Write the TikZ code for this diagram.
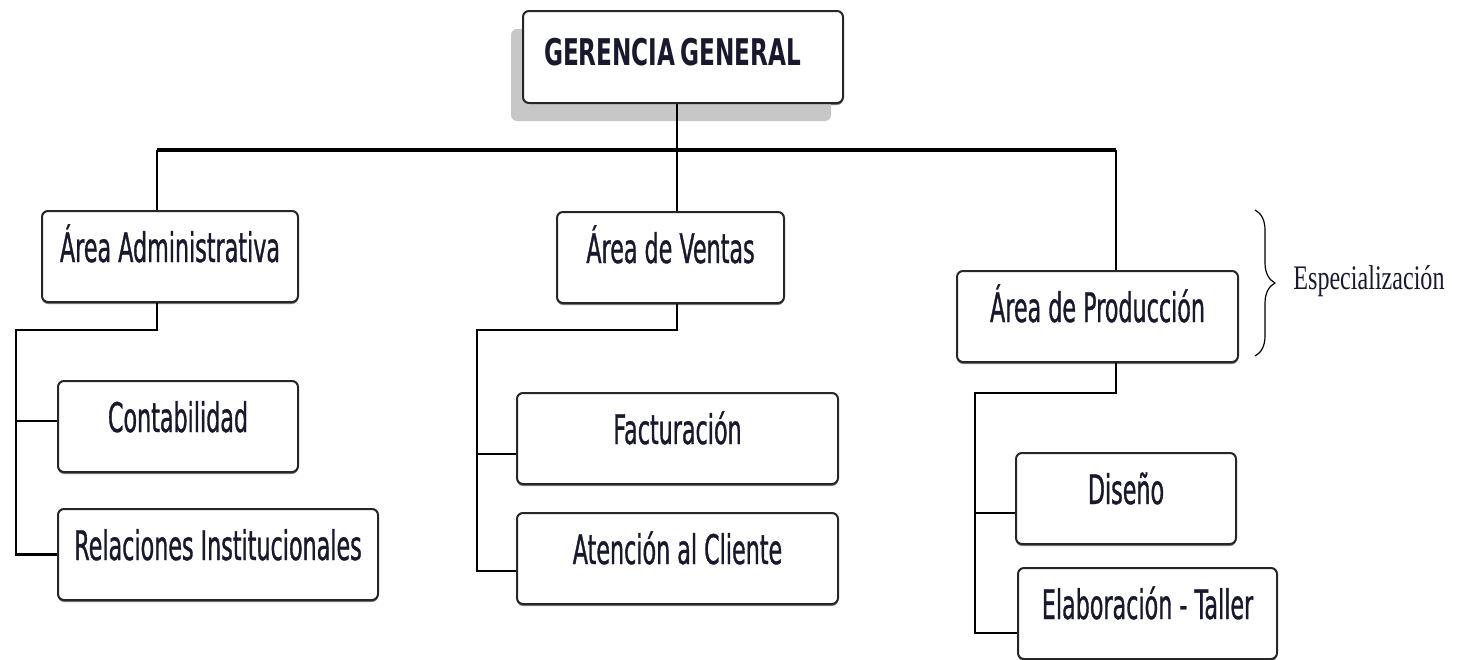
\documentclass[tikz,border=0pt]{standalone}
\usepackage{fontspec}
\newfontfamily\boxfont[FakeStretch=0.545, FakeBold=0.8]{DejaVu Sans}
\newfontfamily\gerfont[FakeStretch=0.63]{DejaVu Sans}
\newfontfamily\espfont[FakeStretch=0.7]{Liberation Serif}
\newcommand\gerspace{\spaceskip 2.5pt\relax}
\usetikzlibrary{shadows, decorations.pathreplacing}
\definecolor{txt}{RGB}{25,25,45}

\begin{document}
\begin{tikzpicture}[x=0.5pt, y=-0.5pt,
  box/.style={draw=black!85, line width=1pt, rounded corners=3pt, fill=white,
    anchor=north west, inner xsep=0pt, inner ysep=0pt, text height=25.5pt, text depth=20pt,
    font=\boxfont\fontsize{20.4}{22}\selectfont, text=txt,
    drop shadow={shadow xshift=0pt, shadow yshift=-1pt, fill=black!50, opacity=1}},
  conn/.style={line width=1.2pt},
  mainbar/.style={line width=2pt}]
\useasboundingbox (0,0) rectangle (1459,659);

\node[box, minimum width=160pt, text width=139pt, align=left, inner xsep=10.5pt,
  text height=27pt, text depth=19pt,
  font=\gerfont\bfseries\fontsize{18.4}{20}\selectfont,
  drop shadow={shadow xshift=-6pt, shadow yshift=-9pt, fill=black!22, opacity=1}]
  (ger) at (522,10) {\gerspace GERENCIA GENERAL};

\node[box, minimum width=128pt] (adm) at (41,210) {Área Administrativa};
\node[box, minimum width=120pt] (cont) at (57,380) {Contabilidad};
\node[box, minimum width=160pt] (rel) at (57,508) {Relaciones Institucionales};

\node[box, minimum width=113.5pt] (ven) at (556,211) {Área de Ventas};
\node[box, minimum width=160.5pt] (fac) at (516,392) {Facturación};
\node[box, minimum width=160.5pt] (ate) at (516,512) {Atención al Cliente};

\node[box, minimum width=140.5pt] (prod) at (956,270) {Área de Producción};
\node[box, minimum width=110pt] (dis) at (1015,452) {Diseño};
\node[box, minimum width=129.5pt] (ela) at (1017,567) {Elaboración - Taller};

\coordinate (ja) at (157,150);
\coordinate (jv) at (677,150);
\coordinate (jp) at (1116,150);
\coordinate (ta) at (16,330);
\coordinate (tv) at (477,330);
\coordinate (tp) at (975,393);

\draw[conn] (ger.south -| jv) -- (jv);
\draw[mainbar] (ja) -- (jp);
\draw[conn] (ja) -- (adm.north -| ja) (jv) -- (ven.north -| jv) (jp) -- (prod.north -| jp);

\draw[conn] (adm.south -| ja) |- (ta) |- ([yshift=2.75pt]cont.west) (ta) |- (rel.west);
\draw[conn] (ven.south -| jv) |- (tv) |- ([yshift=-7.75pt]fac.west) (tv) |- ([yshift=-6.25pt]ate.west);
\draw[conn] (prod.south -| jp) |- (tp) |- ([yshift=-7.25pt]dis.west) (tp) |- ([yshift=-9.75pt]ela.west);

\draw[line width=0.6pt, decorate, decoration={brace, amplitude=10pt}] (1255,210) -- (1255,356);
\node[font=\espfont\fontsize{17.2}{18}\selectfont, anchor=base west, inner sep=0pt, text=txt]
  (esp) at (1293,289) {Especialización};
\end{tikzpicture}
\end{document}
